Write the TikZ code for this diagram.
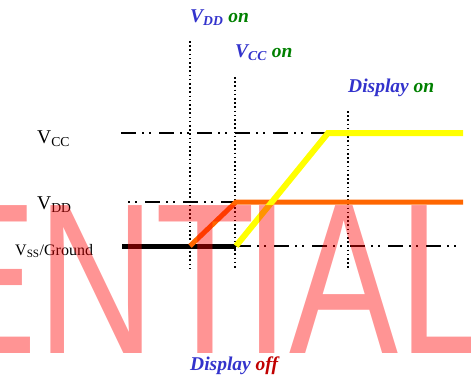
\documentclass[tikz,border=0pt]{standalone}
\usepackage{fontspec}
\setmainfont{Liberation Serif}
\newfontfamily\markfont{Liberation Sans}

\definecolor{evblue}{HTML}{3333CC}
\definecolor{evgreen}{HTML}{008000}
\definecolor{evred}{HTML}{C00000}
\definecolor{vddorange}{HTML}{FF6600}
\definecolor{vccyellow}{HTML}{FFFF00}

\begin{document}
\begin{tikzpicture}[
  x=1pt, y=-1pt,
  every node/.style={inner sep=0pt},
  levelline/.style={line width=1.8pt,
    dash pattern=on 15pt off 6pt on 1.5pt off 5.5pt on 1.5pt off 8.5pt},
  timeline/.style={line width=1.5pt, dash pattern=on 1.5pt off 2.7pt},
  evtlabel/.style={anchor=base west,
    font=\fontsize{19.5}{22}\selectfont\bfseries\itshape},
  levellabel/.style={anchor=base west, font=\fontsize{19.5}{22}\selectfont}
]
\useasboundingbox (0,0) rectangle (471,378);
\clip (0,0) rectangle (471,378);

%% ── supply levels ────────────────────────────────────────────────────────────
\draw[levelline] (121,133) -- (330,133);
\draw[levelline, dash phase=21pt] (128,202) -- (236,202);
\draw[levelline] (122,246) -- (457,246);

%% ── time marks ───────────────────────────────────────────────────────────────
\foreach \t/\top in {190/41, 235/77, 348/111}
  \draw[timeline] (\t,\top) -- (\t,269);

%% ── signals ──────────────────────────────────────────────────────────────────
\coordinate (vssA) at (122,246);
\coordinate (vssB) at (236,246);
\coordinate (vddA) at (190,246);
\coordinate (vddB) at (236,202);
\coordinate (vddC) at (463,202);
\coordinate (vccB) at (328,133);
\coordinate (vccC) at (463,133);

\draw[black, line width=5pt] (vssA) -- (vssB);
\draw[vddorange, line width=5pt] (vddA) -- (vddB) -- (vddC);
\draw[vccyellow, line width=6pt] (vssB) -- (vccB) -- (vccC);

%% ── level labels ─────────────────────────────────────────────────────────────
\node[levellabel] (vcc) at (37,143) {V\textsubscript{CC}};
\node[levellabel] (vdd) at (37,209) {V\textsubscript{DD}};
\node[levellabel, font=\fontsize{16}{18}\selectfont] (vss) at (15,255)
  {V\textsubscript{SS}/Ground};

%% ── event labels ─────────────────────────────────────────────────────────────
\node[evtlabel, evblue] (vddon) at (190,22)
  {V\textsubscript{DD} \textcolor{evgreen}{on}};
\node[evtlabel, evblue] (vccon) at (235,57)
  {V\textsubscript{CC} \textcolor{evgreen}{on}};
\node[evtlabel, evblue] (dispon) at (348,92)
  {Display \textcolor{evgreen}{on}};
\node[evtlabel, evblue] (dispoff) at (190,370)
  {Display \textcolor{evred}{off}};

%% ── watermark ────────────────────────────────────────────────────────────────
\node[anchor=base west, text=red, opacity=0.42, xscale=0.76,
  font=\markfont\fontsize{215}{215}\selectfont] (mark) at (-72,353)
  {ENT\kern-14pt IAL};

\end{tikzpicture}
\end{document}
